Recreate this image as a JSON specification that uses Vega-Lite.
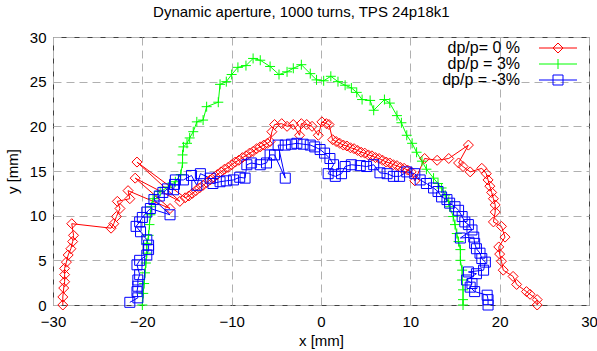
{
"$schema": "https://vega.github.io/schema/vega-lite/v6.json",
"width": 536, "height": 268,
"autosize": {"type": "none"},
"padding": {"left": 53, "top": 37, "right": 8, "bottom": 46},
"background": "white",
"title": {"text": "Dynamic aperture, 1000 turns, TPS 24p18k1", "font": "Liberation Sans", "fontSize": 15, "fontWeight": "normal", "color": "black", "anchor": "middle", "frame": "bounds", "offset": 10},
"config": {
  "view": {"stroke": "#404040", "strokeWidth": 1},
  "axis": {"grid": true, "gridDash": [8, 5], "gridColor": "#b0b0b0", "gridWidth": 1, "domain": false, "ticks": false,
           "labelFont": "Liberation Sans", "labelFontSize": 15, "labelColor": "black", "labelFlush": false, "labelOverlap": false,
           "titleFont": "Liberation Sans", "titleFontSize": 15, "titleFontWeight": "normal", "titleColor": "black"}
},
"data": {"values": [
{"s":"dp/p= 0 %","i":1,"x":-28.9,"y":0},{"s":"dp/p= 0 %","i":2,"x":-28.9,"y":0.9},{"s":"dp/p= 0 %","i":3,"x":-28.8,"y":1.9},{"s":"dp/p= 0 %","i":4,"x":-28.7,"y":2.6},{"s":"dp/p= 0 %","i":5,"x":-28.7,"y":3.4},{"s":"dp/p= 0 %","i":6,"x":-28.7,"y":4.1},{"s":"dp/p= 0 %","i":7,"x":-28.5,"y":4.8},{"s":"dp/p= 0 %","i":8,"x":-28.3,"y":5.6},{"s":"dp/p= 0 %","i":9,"x":-28.0,"y":6.3},{"s":"dp/p= 0 %","i":10,"x":-27.8,"y":7.1},{"s":"dp/p= 0 %","i":11,"x":-27.7,"y":7.8},{"s":"dp/p= 0 %","i":12,"x":-27.9,"y":9.1},
{"s":"dp/p= 0 %","i":13,"x":-23.5,"y":8.6},{"s":"dp/p= 0 %","i":14,"x":-23.2,"y":9.1},{"s":"dp/p= 0 %","i":15,"x":-22.9,"y":9.9},{"s":"dp/p= 0 %","i":16,"x":-22.5,"y":10.8},{"s":"dp/p= 0 %","i":17,"x":-22.8,"y":11.6},{"s":"dp/p= 0 %","i":18,"x":-21.4,"y":11.9},{"s":"dp/p= 0 %","i":19,"x":-21.6,"y":12.8},{"s":"dp/p= 0 %","i":20,"x":-16.9,"y":10.8},{"s":"dp/p= 0 %","i":21,"x":-20.8,"y":14.2},{"s":"dp/p= 0 %","i":22,"x":-15.8,"y":11.6},{"s":"dp/p= 0 %","i":23,"x":-20.6,"y":16.0},{"s":"dp/p= 0 %","i":24,"x":-15.2,"y":12.0},
{"s":"dp/p= 0 %","i":25,"x":-14.8,"y":12.2},{"s":"dp/p= 0 %","i":26,"x":-14.4,"y":12.5},{"s":"dp/p= 0 %","i":27,"x":-14.0,"y":12.8},{"s":"dp/p= 0 %","i":28,"x":-13.6,"y":13.1},{"s":"dp/p= 0 %","i":29,"x":-13.2,"y":13.4},{"s":"dp/p= 0 %","i":30,"x":-12.8,"y":13.7},{"s":"dp/p= 0 %","i":31,"x":-12.4,"y":14.0},{"s":"dp/p= 0 %","i":32,"x":-12.0,"y":14.3},{"s":"dp/p= 0 %","i":33,"x":-11.6,"y":14.6},{"s":"dp/p= 0 %","i":34,"x":-11.2,"y":14.9},{"s":"dp/p= 0 %","i":35,"x":-10.8,"y":15.2},{"s":"dp/p= 0 %","i":36,"x":-10.4,"y":15.4},{"s":"dp/p= 0 %","i":37,"x":-10.0,"y":15.7},{"s":"dp/p= 0 %","i":38,"x":-9.6,"y":16.0},{"s":"dp/p= 0 %","i":39,"x":-9.2,"y":16.2},{"s":"dp/p= 0 %","i":40,"x":-8.8,"y":16.5},{"s":"dp/p= 0 %","i":41,"x":-8.4,"y":16.7},{"s":"dp/p= 0 %","i":42,"x":-8.0,"y":17.0},{"s":"dp/p= 0 %","i":43,"x":-7.6,"y":17.2},{"s":"dp/p= 0 %","i":44,"x":-7.2,"y":17.5},{"s":"dp/p= 0 %","i":45,"x":-6.8,"y":17.7},{"s":"dp/p= 0 %","i":46,"x":-6.4,"y":17.9},{"s":"dp/p= 0 %","i":47,"x":-6.0,"y":18.1},{"s":"dp/p= 0 %","i":48,"x":-5.7,"y":18.3},
{"s":"dp/p= 0 %","i":49,"x":-5.5,"y":19.4},{"s":"dp/p= 0 %","i":50,"x":-5.2,"y":20.2},{"s":"dp/p= 0 %","i":51,"x":-4.4,"y":20.3},{"s":"dp/p= 0 %","i":52,"x":-3.8,"y":20.0},{"s":"dp/p= 0 %","i":53,"x":-3.1,"y":20.2},{"s":"dp/p= 0 %","i":54,"x":-2.4,"y":19.0},{"s":"dp/p= 0 %","i":55,"x":-2.2,"y":20.3},{"s":"dp/p= 0 %","i":56,"x":-1.6,"y":20.2},{"s":"dp/p= 0 %","i":57,"x":-1.0,"y":20.0},{"s":"dp/p= 0 %","i":58,"x":-0.3,"y":19.0},{"s":"dp/p= 0 %","i":59,"x":0.1,"y":20.5},{"s":"dp/p= 0 %","i":60,"x":0.6,"y":20.3},{"s":"dp/p= 0 %","i":61,"x":0.9,"y":20.2},{"s":"dp/p= 0 %","i":62,"x":1.3,"y":18.5},
{"s":"dp/p= 0 %","i":63,"x":1.7,"y":18.3},{"s":"dp/p= 0 %","i":64,"x":2.1,"y":18.1},{"s":"dp/p= 0 %","i":65,"x":2.5,"y":17.9},{"s":"dp/p= 0 %","i":66,"x":2.9,"y":17.8},{"s":"dp/p= 0 %","i":67,"x":3.3,"y":17.6},{"s":"dp/p= 0 %","i":68,"x":3.7,"y":17.5},{"s":"dp/p= 0 %","i":69,"x":4.1,"y":17.3},{"s":"dp/p= 0 %","i":70,"x":4.5,"y":17.1},{"s":"dp/p= 0 %","i":71,"x":4.9,"y":17.0},{"s":"dp/p= 0 %","i":72,"x":5.3,"y":16.8},{"s":"dp/p= 0 %","i":73,"x":5.7,"y":16.7},{"s":"dp/p= 0 %","i":74,"x":6.1,"y":16.5},{"s":"dp/p= 0 %","i":75,"x":6.5,"y":16.4},{"s":"dp/p= 0 %","i":76,"x":6.9,"y":16.2},{"s":"dp/p= 0 %","i":77,"x":7.3,"y":16.0},{"s":"dp/p= 0 %","i":78,"x":7.7,"y":15.9},{"s":"dp/p= 0 %","i":79,"x":8.1,"y":15.7},{"s":"dp/p= 0 %","i":80,"x":8.5,"y":15.6},{"s":"dp/p= 0 %","i":81,"x":8.9,"y":15.4},{"s":"dp/p= 0 %","i":82,"x":9.3,"y":15.3},{"s":"dp/p= 0 %","i":83,"x":9.7,"y":15.1},{"s":"dp/p= 0 %","i":84,"x":10.1,"y":14.9},
{"s":"dp/p= 0 %","i":85,"x":10.5,"y":13.9},{"s":"dp/p= 0 %","i":86,"x":11.6,"y":16.4},{"s":"dp/p= 0 %","i":87,"x":13.0,"y":16.2},{"s":"dp/p= 0 %","i":88,"x":14.3,"y":16.4},{"s":"dp/p= 0 %","i":89,"x":16.5,"y":17.9},{"s":"dp/p= 0 %","i":90,"x":15.4,"y":15.9},{"s":"dp/p= 0 %","i":91,"x":15.9,"y":15.5},{"s":"dp/p= 0 %","i":92,"x":16.7,"y":14.9},{"s":"dp/p= 0 %","i":93,"x":18.0,"y":15.3},{"s":"dp/p= 0 %","i":94,"x":18.5,"y":14.7},{"s":"dp/p= 0 %","i":95,"x":18.7,"y":14.0},{"s":"dp/p= 0 %","i":96,"x":18.9,"y":13.3},{"s":"dp/p= 0 %","i":97,"x":19.1,"y":12.6},{"s":"dp/p= 0 %","i":98,"x":19.3,"y":11.9},{"s":"dp/p= 0 %","i":99,"x":19.5,"y":11.2},{"s":"dp/p= 0 %","i":100,"x":19.5,"y":10.4},{"s":"dp/p= 0 %","i":101,"x":19.3,"y":9.3},{"s":"dp/p= 0 %","i":102,"x":20.2,"y":8.8},{"s":"dp/p= 0 %","i":103,"x":20.6,"y":7.6},{"s":"dp/p= 0 %","i":104,"x":19.9,"y":6.5},{"s":"dp/p= 0 %","i":105,"x":20.0,"y":5.7},{"s":"dp/p= 0 %","i":106,"x":20.2,"y":4.9},{"s":"dp/p= 0 %","i":107,"x":20.4,"y":3.9},{"s":"dp/p= 0 %","i":108,"x":21.5,"y":3.2},{"s":"dp/p= 0 %","i":109,"x":21.9,"y":2.3},{"s":"dp/p= 0 %","i":110,"x":23.0,"y":1.5},{"s":"dp/p= 0 %","i":111,"x":23.4,"y":1.2},{"s":"dp/p= 0 %","i":112,"x":24.2,"y":0.6},{"s":"dp/p= 0 %","i":113,"x":24.2,"y":0},

{"s":"dp/p = 3%","i":1,"x":-20.0,"y":0},{"s":"dp/p = 3%","i":2,"x":-19.9,"y":1.3},{"s":"dp/p = 3%","i":3,"x":-19.8,"y":2.4},{"s":"dp/p = 3%","i":4,"x":-19.7,"y":3.6},{"s":"dp/p = 3%","i":5,"x":-19.6,"y":4.7},{"s":"dp/p = 3%","i":6,"x":-19.5,"y":5.8},{"s":"dp/p = 3%","i":7,"x":-19.5,"y":6.9},{"s":"dp/p = 3%","i":8,"x":-19.3,"y":7.8},{"s":"dp/p = 3%","i":9,"x":-19.2,"y":9.0},{"s":"dp/p = 3%","i":10,"x":-19.1,"y":10.1},{"s":"dp/p = 3%","i":11,"x":-19.0,"y":11.0},{"s":"dp/p = 3%","i":12,"x":-18.8,"y":11.9},{"s":"dp/p = 3%","i":13,"x":-18.0,"y":12.7},{"s":"dp/p = 3%","i":14,"x":-17.1,"y":13.2},{"s":"dp/p = 3%","i":15,"x":-16.3,"y":13.8},{"s":"dp/p = 3%","i":16,"x":-15.7,"y":14.6},{"s":"dp/p = 3%","i":17,"x":-15.5,"y":15.9},{"s":"dp/p = 3%","i":18,"x":-15.5,"y":16.8},{"s":"dp/p = 3%","i":19,"x":-15.4,"y":17.7},{"s":"dp/p = 3%","i":20,"x":-15.0,"y":18.1},{"s":"dp/p = 3%","i":21,"x":-14.7,"y":18.7},{"s":"dp/p = 3%","i":22,"x":-14.3,"y":19.4},{"s":"dp/p = 3%","i":23,"x":-13.9,"y":20.5},{"s":"dp/p = 3%","i":24,"x":-13.2,"y":20.7},{"s":"dp/p = 3%","i":25,"x":-12.8,"y":22.2},{"s":"dp/p = 3%","i":26,"x":-11.5,"y":22.7},{"s":"dp/p = 3%","i":27,"x":-11.3,"y":24.7},{"s":"dp/p = 3%","i":28,"x":-10.6,"y":25.0},{"s":"dp/p = 3%","i":29,"x":-10.0,"y":25.8},{"s":"dp/p = 3%","i":30,"x":-9.3,"y":26.6},{"s":"dp/p = 3%","i":31,"x":-8.4,"y":26.8},{"s":"dp/p = 3%","i":32,"x":-7.6,"y":27.6},{"s":"dp/p = 3%","i":33,"x":-6.8,"y":27.4},{"s":"dp/p = 3%","i":34,"x":-5.7,"y":26.7},{"s":"dp/p = 3%","i":35,"x":-4.7,"y":25.8},{"s":"dp/p = 3%","i":36,"x":-3.8,"y":26.1},{"s":"dp/p = 3%","i":37,"x":-3.1,"y":26.5},{"s":"dp/p = 3%","i":38,"x":-2.2,"y":26.9},{"s":"dp/p = 3%","i":39,"x":-1.2,"y":25.9},{"s":"dp/p = 3%","i":40,"x":-0.5,"y":25.2},{"s":"dp/p = 3%","i":41,"x":0.3,"y":25.1},{"s":"dp/p = 3%","i":42,"x":1.1,"y":25.6},{"s":"dp/p = 3%","i":43,"x":1.9,"y":25.0},{"s":"dp/p = 3%","i":44,"x":2.7,"y":24.6},{"s":"dp/p = 3%","i":45,"x":3.4,"y":24.3},{"s":"dp/p = 3%","i":46,"x":4.0,"y":23.8},{"s":"dp/p = 3%","i":47,"x":4.6,"y":23.0},{"s":"dp/p = 3%","i":48,"x":5.5,"y":22.9},{"s":"dp/p = 3%","i":49,"x":5.9,"y":21.8},{"s":"dp/p = 3%","i":50,"x":7.1,"y":23.0},{"s":"dp/p = 3%","i":51,"x":7.7,"y":22.6},{"s":"dp/p = 3%","i":52,"x":8.5,"y":21.2},{"s":"dp/p = 3%","i":53,"x":9.0,"y":20.4},{"s":"dp/p = 3%","i":54,"x":9.6,"y":19.0},{"s":"dp/p = 3%","i":55,"x":10.2,"y":18.1},{"s":"dp/p = 3%","i":56,"x":10.7,"y":17.1},{"s":"dp/p = 3%","i":57,"x":11.3,"y":16.1},{"s":"dp/p = 3%","i":58,"x":11.8,"y":15.2},{"s":"dp/p = 3%","i":59,"x":12.6,"y":14.2},{"s":"dp/p = 3%","i":60,"x":13.1,"y":13.6},{"s":"dp/p = 3%","i":61,"x":13.5,"y":13.1},{"s":"dp/p = 3%","i":62,"x":13.9,"y":12.3},{"s":"dp/p = 3%","i":63,"x":14.3,"y":11.6},{"s":"dp/p = 3%","i":64,"x":14.4,"y":11.0},{"s":"dp/p = 3%","i":65,"x":14.8,"y":9.9},{"s":"dp/p = 3%","i":66,"x":15.0,"y":9.0},{"s":"dp/p = 3%","i":67,"x":15.2,"y":8.0},{"s":"dp/p = 3%","i":68,"x":15.4,"y":7.1},{"s":"dp/p = 3%","i":69,"x":15.6,"y":6.2},{"s":"dp/p = 3%","i":70,"x":15.6,"y":5.0},{"s":"dp/p = 3%","i":71,"x":15.8,"y":3.9},{"s":"dp/p = 3%","i":72,"x":15.8,"y":2.8},{"s":"dp/p = 3%","i":73,"x":15.9,"y":1.7},{"s":"dp/p = 3%","i":74,"x":15.9,"y":0.6},{"s":"dp/p = 3%","i":75,"x":15.9,"y":0},

{"s":"dp/p = -3%","i":1,"x":-21.4,"y":0.3},{"s":"dp/p = -3%","i":2,"x":-20.5,"y":0.8},{"s":"dp/p = -3%","i":3,"x":-20.6,"y":1.5},{"s":"dp/p = -3%","i":4,"x":-20.5,"y":2.1},{"s":"dp/p = -3%","i":5,"x":-20.5,"y":2.8},{"s":"dp/p = -3%","i":6,"x":-20.3,"y":3.4},{"s":"dp/p = -3%","i":7,"x":-20.6,"y":4.5},{"s":"dp/p = -3%","i":8,"x":-20.3,"y":5.0},{"s":"dp/p = -3%","i":9,"x":-19.5,"y":5.6},{"s":"dp/p = -3%","i":10,"x":-19.3,"y":6.2},{"s":"dp/p = -3%","i":11,"x":-19.3,"y":6.7},{"s":"dp/p = -3%","i":12,"x":-19.5,"y":7.3},{"s":"dp/p = -3%","i":13,"x":-20.2,"y":8.2},{"s":"dp/p = -3%","i":14,"x":-20.7,"y":8.8},{"s":"dp/p = -3%","i":15,"x":-20.3,"y":9.3},{"s":"dp/p = -3%","i":16,"x":-20.0,"y":9.8},{"s":"dp/p = -3%","i":17,"x":-19.5,"y":10.4},{"s":"dp/p = -3%","i":18,"x":-19.1,"y":10.8},{"s":"dp/p = -3%","i":19,"x":-16.9,"y":10.1},{"s":"dp/p = -3%","i":20,"x":-18.7,"y":11.8},{"s":"dp/p = -3%","i":21,"x":-18.1,"y":12.2},{"s":"dp/p = -3%","i":22,"x":-17.7,"y":12.6},{"s":"dp/p = -3%","i":23,"x":-17.2,"y":13.0},{"s":"dp/p = -3%","i":24,"x":-16.5,"y":12.9},{"s":"dp/p = -3%","i":25,"x":-16.4,"y":13.5},{"s":"dp/p = -3%","i":26,"x":-16.3,"y":14.0},{"s":"dp/p = -3%","i":27,"x":-15.4,"y":14.0},{"s":"dp/p = -3%","i":28,"x":-14.5,"y":14.5},{"s":"dp/p = -3%","i":29,"x":-13.9,"y":13.4},{"s":"dp/p = -3%","i":30,"x":-13.5,"y":14.7},{"s":"dp/p = -3%","i":31,"x":-12.4,"y":14.2},{"s":"dp/p = -3%","i":32,"x":-12.1,"y":13.6},{"s":"dp/p = -3%","i":33,"x":-11.3,"y":13.8},{"s":"dp/p = -3%","i":34,"x":-10.6,"y":13.9},{"s":"dp/p = -3%","i":35,"x":-9.8,"y":14.0},{"s":"dp/p = -3%","i":36,"x":-9.1,"y":14.3},{"s":"dp/p = -3%","i":37,"x":-8.5,"y":14.2},{"s":"dp/p = -3%","i":38,"x":-8.3,"y":15.7},{"s":"dp/p = -3%","i":39,"x":-7.8,"y":15.9},{"s":"dp/p = -3%","i":40,"x":-6.8,"y":15.7},{"s":"dp/p = -3%","i":41,"x":-6.1,"y":15.9},{"s":"dp/p = -3%","i":42,"x":-5.7,"y":16.8},{"s":"dp/p = -3%","i":43,"x":-5.2,"y":16.8},{"s":"dp/p = -3%","i":44,"x":-4.0,"y":14.2},{"s":"dp/p = -3%","i":45,"x":-4.8,"y":17.9},{"s":"dp/p = -3%","i":46,"x":-4.0,"y":17.9},{"s":"dp/p = -3%","i":47,"x":-3.3,"y":18.0},{"s":"dp/p = -3%","i":48,"x":-2.7,"y":18.1},{"s":"dp/p = -3%","i":49,"x":-2.0,"y":18.0},{"s":"dp/p = -3%","i":50,"x":-1.2,"y":17.9},{"s":"dp/p = -3%","i":51,"x":-0.7,"y":17.7},{"s":"dp/p = -3%","i":52,"x":-0.1,"y":17.4},{"s":"dp/p = -3%","i":53,"x":0.4,"y":17.0},{"s":"dp/p = -3%","i":54,"x":1.0,"y":16.4},{"s":"dp/p = -3%","i":55,"x":1.4,"y":15.7},{"s":"dp/p = -3%","i":56,"x":0.8,"y":14.7},{"s":"dp/p = -3%","i":57,"x":1.6,"y":14.4},{"s":"dp/p = -3%","i":58,"x":2.3,"y":14.7},{"s":"dp/p = -3%","i":59,"x":2.7,"y":15.5},{"s":"dp/p = -3%","i":60,"x":3.4,"y":15.7},{"s":"dp/p = -3%","i":61,"x":4.4,"y":15.6},{"s":"dp/p = -3%","i":62,"x":5.1,"y":15.5},{"s":"dp/p = -3%","i":63,"x":5.9,"y":15.7},{"s":"dp/p = -3%","i":64,"x":6.6,"y":14.8},{"s":"dp/p = -3%","i":65,"x":7.4,"y":14.7},{"s":"dp/p = -3%","i":66,"x":8.1,"y":14.4},{"s":"dp/p = -3%","i":67,"x":8.8,"y":14.4},{"s":"dp/p = -3%","i":68,"x":9.6,"y":14.9},{"s":"dp/p = -3%","i":69,"x":10.5,"y":14.7},{"s":"dp/p = -3%","i":70,"x":11.1,"y":14.0},{"s":"dp/p = -3%","i":71,"x":11.8,"y":13.6},{"s":"dp/p = -3%","i":72,"x":12.6,"y":13.1},{"s":"dp/p = -3%","i":73,"x":13.1,"y":12.7},{"s":"dp/p = -3%","i":74,"x":13.5,"y":12.1},{"s":"dp/p = -3%","i":75,"x":14.1,"y":11.8},{"s":"dp/p = -3%","i":76,"x":14.4,"y":11.4},{"s":"dp/p = -3%","i":77,"x":15.0,"y":11.0},{"s":"dp/p = -3%","i":78,"x":15.4,"y":10.6},{"s":"dp/p = -3%","i":79,"x":15.8,"y":9.9},{"s":"dp/p = -3%","i":80,"x":16.1,"y":9.3},{"s":"dp/p = -3%","i":81,"x":16.5,"y":9.0},{"s":"dp/p = -3%","i":82,"x":16.9,"y":8.4},{"s":"dp/p = -3%","i":83,"x":15.6,"y":7.5},{"s":"dp/p = -3%","i":84,"x":17.1,"y":7.6},{"s":"dp/p = -3%","i":85,"x":17.2,"y":6.9},{"s":"dp/p = -3%","i":86,"x":17.4,"y":6.3},{"s":"dp/p = -3%","i":87,"x":17.8,"y":5.8},{"s":"dp/p = -3%","i":88,"x":18.0,"y":5.2},{"s":"dp/p = -3%","i":89,"x":18.4,"y":4.8},{"s":"dp/p = -3%","i":90,"x":18.2,"y":3.9},{"s":"dp/p = -3%","i":91,"x":16.5,"y":3.7},{"s":"dp/p = -3%","i":92,"x":17.4,"y":3.5},{"s":"dp/p = -3%","i":93,"x":16.3,"y":2.8},{"s":"dp/p = -3%","i":94,"x":16.9,"y":2.4},{"s":"dp/p = -3%","i":95,"x":16.7,"y":2.0},{"s":"dp/p = -3%","i":96,"x":17.2,"y":1.5},{"s":"dp/p = -3%","i":97,"x":18.6,"y":1.1},{"s":"dp/p = -3%","i":98,"x":18.7,"y":0.6},{"s":"dp/p = -3%","i":99,"x":18.7,"y":0}
]},
"encoding": {
  "x": {"field": "x", "type": "quantitative", "scale": {"domain": [-30, 30], "nice": false, "zero": false},
        "axis": {"title": "x [mm]", "values": [-30, -20, -10, 0, 10, 20, 30], "labelPadding": 9, "titlePadding": 4}},
  "y": {"field": "y", "type": "quantitative", "scale": {"domain": [0, 30], "nice": false},
        "axis": {"title": "y [mm]", "values": [0, 5, 10, 15, 20, 25, 30], "labelPadding": 7, "titlePadding": 9}}
},
"layer": [
  {"mark": {"type": "line", "strokeWidth": 1, "clip": false},
   "encoding": {
     "color": {"field": "s", "type": "nominal", "scale": {"domain": ["dp/p= 0 %", "dp/p = 3%", "dp/p = -3%"], "range": ["#ff0000", "#00ff00", "#0000ff"]}, "legend": null},
     "order": {"field": "i", "type": "quantitative"}}},
  {"mark": {"type": "point", "filled": false, "strokeWidth": 1, "size": 100, "opacity": 1},
   "encoding": {
     "color": {"field": "s", "type": "nominal", "scale": {"domain": ["dp/p= 0 %", "dp/p = 3%", "dp/p = -3%"], "range": ["#ff0000", "#00ff00", "#0000ff"]}, "legend": null},
     "shape": {"field": "s", "type": "nominal", "scale": {"domain": ["dp/p= 0 %", "dp/p = 3%", "dp/p = -3%"], "range": ["diamond", "M-1,0H1M0,-1V1", "square"]}, "legend": null}}},
  {"transform": [{"filter": "datum.i == 1"}],
   "mark": {"type": "point", "filled": false, "strokeWidth": 1, "size": 100, "opacity": 0},
   "encoding": {
     "color": {"field": "s", "type": "nominal", "scale": {"domain": ["dp/p= 0 %", "dp/p = 3%", "dp/p = -3%"], "range": ["#ff0000", "#00ff00", "#0000ff"]},
               "legend": {"title": null, "orient": "none", "legendX": 497, "legendY": 3, "padding": 0, "labelAlign": "right", "labelOffset": -46,
                          "labelFont": "Liberation Sans", "labelFontSize": 16, "labelColor": "black", "labelLimit": 0,
                          "symbolOpacity": 1, "symbolSize": 100, "symbolStrokeWidth": 1, "symbolFillColor": "transparent", "rowPadding": -2}},
     "shape": {"field": "s", "type": "nominal", "scale": {"domain": ["dp/p= 0 %", "dp/p = 3%", "dp/p = -3%"], "range": ["M-3.8,0H3.8M-1,0L0,-1L1,0L0,1Z", "M-3.8,0H3.8M0,-1V1", "M-3.8,0H3.8M-1,-1H1V1H-1Z"]},
               "legend": {"title": null, "orient": "none", "legendX": 497, "legendY": 3, "padding": 0, "labelAlign": "right", "labelOffset": -46,
                          "labelFont": "Liberation Sans", "labelFontSize": 16, "labelColor": "black", "labelLimit": 0,
                          "symbolOpacity": 1, "symbolSize": 100, "symbolStrokeWidth": 1, "symbolFillColor": "transparent", "rowPadding": -2}}}}
],
"resolve": {"scale": {"color": "independent", "shape": "independent"}}
}
